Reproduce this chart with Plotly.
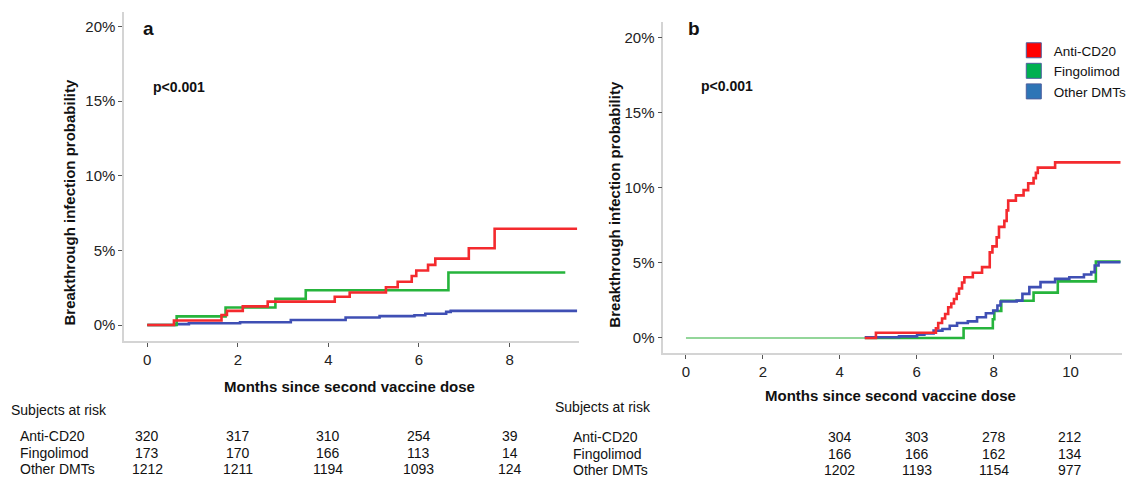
import plotly.graph_objects as go

# ---------------- data (months, cumulative % ) ----------------
a_red_t = [0, 0.59, 1.64, 1.76, 2.11, 2.66, 4.14, 4.47, 5.27, 5.53, 5.84, 5.94, 6.20, 6.36, 7.10, 7.67, 9.49]
a_red_p = [0, 0.30, 0.67, 0.95, 1.25, 1.57, 1.90, 2.18, 2.53, 2.90, 3.29, 3.65, 4.03, 4.45, 5.15, 6.45, 6.45]
a_green_t = [0, 0.65, 1.73, 2.83, 3.50, 6.65, 9.23]
a_green_p = [0, 0.58, 1.18, 1.75, 2.33, 3.52, 3.52]
a_blue_t = [0, 0.62, 0.92, 2.05, 3.17, 4.38, 5.13, 5.90, 6.14, 6.60, 6.70, 9.49]
a_blue_p = [0, 0.06, 0.12, 0.19, 0.34, 0.50, 0.60, 0.66, 0.76, 0.88, 0.95, 0.95]

b_pale_t = [0, 4.65]
b_pale_p = [0, 0]
b_red_t = [4.65, 4.94, 6.50, 6.56, 6.66, 6.74, 6.82, 6.90, 6.97, 7.04, 7.10, 7.18, 7.24, 7.46, 7.70,
           7.90, 7.97, 8.08, 8.14, 8.28, 8.34, 8.38, 8.58, 8.78, 8.90, 9.04, 9.10, 9.15, 9.60, 11.30]
b_red_p = [0, 0.35, 0.65, 1.00, 1.30, 1.60, 2.05, 2.30, 2.60, 2.95, 3.30, 3.70, 4.05, 4.35, 4.72,
           5.70, 6.10, 6.70, 7.40, 7.80, 8.50, 9.15, 9.50, 9.85, 10.30, 10.65, 11.00, 11.35, 11.70, 11.70]
b_green_t = [4.65, 7.22, 7.98, 8.02, 8.20, 9.04, 9.67, 10.66, 11.30]
b_green_p = [0, 0.65, 1.25, 1.80, 2.48, 3.02, 3.77, 5.10, 5.10]
b_blue_t = [4.65, 5.54, 6.01, 6.20, 6.44, 6.67, 6.86, 7.05, 7.33, 7.57, 7.80, 7.99, 8.10, 8.18, 8.60,
            8.75, 8.93, 9.22, 9.60, 9.97, 10.35, 10.54, 10.63, 10.73, 11.30]
b_blue_p = [0.05, 0.11, 0.22, 0.31, 0.49, 0.60, 0.82, 1.00, 1.11, 1.38, 1.65, 1.83, 2.16, 2.43, 2.49,
            2.94, 3.39, 3.72, 3.94, 4.05, 4.23, 4.39, 4.83, 5.05, 5.05]

groups = ["Anti-CD20", "Fingolimod", "Other DMTs"]
y_ticks = [0, 5, 10, 15, 20]
y_tick_text = ["0%", "5%", "10%", "15%", "20%"]
a_x_ticks = [0, 2, 4, 6, 8]
b_x_ticks = [0, 2, 4, 6, 8, 10]

risk_a_times = [0, 2, 4, 6, 8]
risk_a_cd20 = [320, 317, 310, 254, 39]
risk_a_fingo = [173, 170, 166, 113, 14]
risk_a_other = [1212, 1211, 1194, 1093, 124]
risk_b_times = [4, 6, 8, 10]
risk_b_cd20 = [304, 303, 278, 212]
risk_b_fingo = [166, 166, 162, 134]
risk_b_other = [1202, 1193, 1154, 977]

# ---------------- style ----------------
W, H = 1132, 479
RED, GREEN, BLUE = "#f42a2e", "#26b43c", "#3f4fb4"
PALE = "#93d69a"
FONT = "Liberation Sans, Arial, sans-serif"
TXT = "#111111"

def px(x):
    return x / W

def py(y):
    return 1 - y / H

fig = go.Figure()

def curve(t, p, color, xa, ya, width=2.6):
    fig.add_trace(go.Scatter(x=t, y=p, mode="lines", line=dict(color=color, width=width, shape="hv"),
                             xaxis=xa, yaxis=ya, showlegend=False, hoverinfo="skip"))

curve(a_blue_t, a_blue_p, BLUE, "x", "y")
curve(a_green_t, a_green_p, GREEN, "x", "y")
curve(a_red_t, a_red_p, RED, "x", "y")

curve(b_pale_t, b_pale_p, PALE, "x2", "y2", width=2.2)
curve(b_green_t, b_green_p, GREEN, "x2", "y2")
curve(b_blue_t, b_blue_p, BLUE, "x2", "y2")
curve(b_red_t, b_red_p, RED, "x2", "y2")

legend_cols = ["#ff0000", "#00b050", "#2e75b6"]
for g, c in zip(groups, legend_cols):
    fig.add_trace(go.Scatter(x=[None], y=[None], mode="markers", name=g,
                             marker=dict(symbol="square", size=15, color=c,
                                         line=dict(color="#4d5f9e", width=1)),
                             xaxis="x2", yaxis="y2"))

axis_common = dict(showgrid=False, zeroline=False, showline=True, linecolor="#d4d4d4", linewidth=1.5,
                   ticks="outside", ticklen=4, tickcolor="#555555", tickwidth=1,
                   tickfont=dict(family=FONT, size=15, color="#222222"))

fig.update_layout(
    width=W, height=H, margin=dict(l=0, r=0, t=0, b=0),
    paper_bgcolor="white", plot_bgcolor="white",
    xaxis=dict(domain=[px(125), px(583)], range=[-0.51, 9.53], tickvals=a_x_ticks, anchor="y", **axis_common),
    yaxis=dict(domain=[py(341), py(12)], range=[-1.07, 20.98], tickvals=y_ticks, ticktext=y_tick_text,
               anchor="x", **axis_common),
    xaxis2=dict(domain=[px(668), px(1130)], range=[-0.59, 11.34], tickvals=b_x_ticks, anchor="y2", **axis_common),
    yaxis2=dict(domain=[py(353), py(22)], range=[-1.0, 21.05], tickvals=y_ticks, ticktext=y_tick_text,
                anchor="x2", **axis_common),
    legend=dict(x=px(1021), y=py(35), xanchor="left", yanchor="top", bgcolor="rgba(0,0,0,0)",
                font=dict(family=FONT, size=13.5, color=TXT), tracegroupgap=0, itemwidth=30),
)

ann = []
def text(x, y, s, size=14, bold=False, xref="paper", xanchor="left", angle=0):
    ann.append(dict(x=x, y=y, xref=xref, yref="paper", text=("<b>%s</b>" % s) if bold else s,
                    showarrow=False, xanchor=xanchor, yanchor="middle", textangle=angle,
                    font=dict(family=FONT, size=size, color=TXT)))

# panel labels & p-values
text(px(142), py(29), "a", size=19, bold=True)
text(px(691), py(29), "b", size=19, bold=True)
text(px(152), py(87), "p<0.001", size=14, bold=True)
text(px(704), py(86), "p<0.001", size=14, bold=True)

# axis titles
text(px(70), py(202), "Breakthrough infection probability", size=15, bold=True, xanchor="center", angle=-90)
text(px(619), py(204), "Breakthrough infection probability", size=15, bold=True, xanchor="center", angle=-90)
text(px(352), py(386), "Months since second vaccine dose", size=15, bold=True, xanchor="center")
text(px(897), py(395), "Months since second vaccine dose", size=15, bold=True, xanchor="center")

# subjects at risk tables
text(px(9), py(410), "Subjects at risk", size=14)
text(px(557), py(407), "Subjects at risk", size=14)
rows_a = [risk_a_cd20, risk_a_fingo, risk_a_other]
rows_b = [risk_b_cd20, risk_b_fingo, risk_b_other]
ya = [436, 453, 469]
yb = [437, 454, 470]
for g, vals, yy in zip(groups, rows_a, ya):
    text(px(18), py(yy), g, size=14)
    for t, v in zip(risk_a_times, vals):
        text(t, py(yy), str(v), size=14, xref="x", xanchor="center")
for g, vals, yy in zip(groups, rows_b, yb):
    text(px(575), py(yy), g, size=14)
    for t, v in zip(risk_b_times, vals):
        text(t, py(yy), str(v), size=14, xref="x2", xanchor="center")

fig.update_layout(annotations=ann)
fig.write_html("out.html", config={"displayModeBar": False},
               post_script="document.body.style.margin='0px';document.body.style.overflow='hidden';")
